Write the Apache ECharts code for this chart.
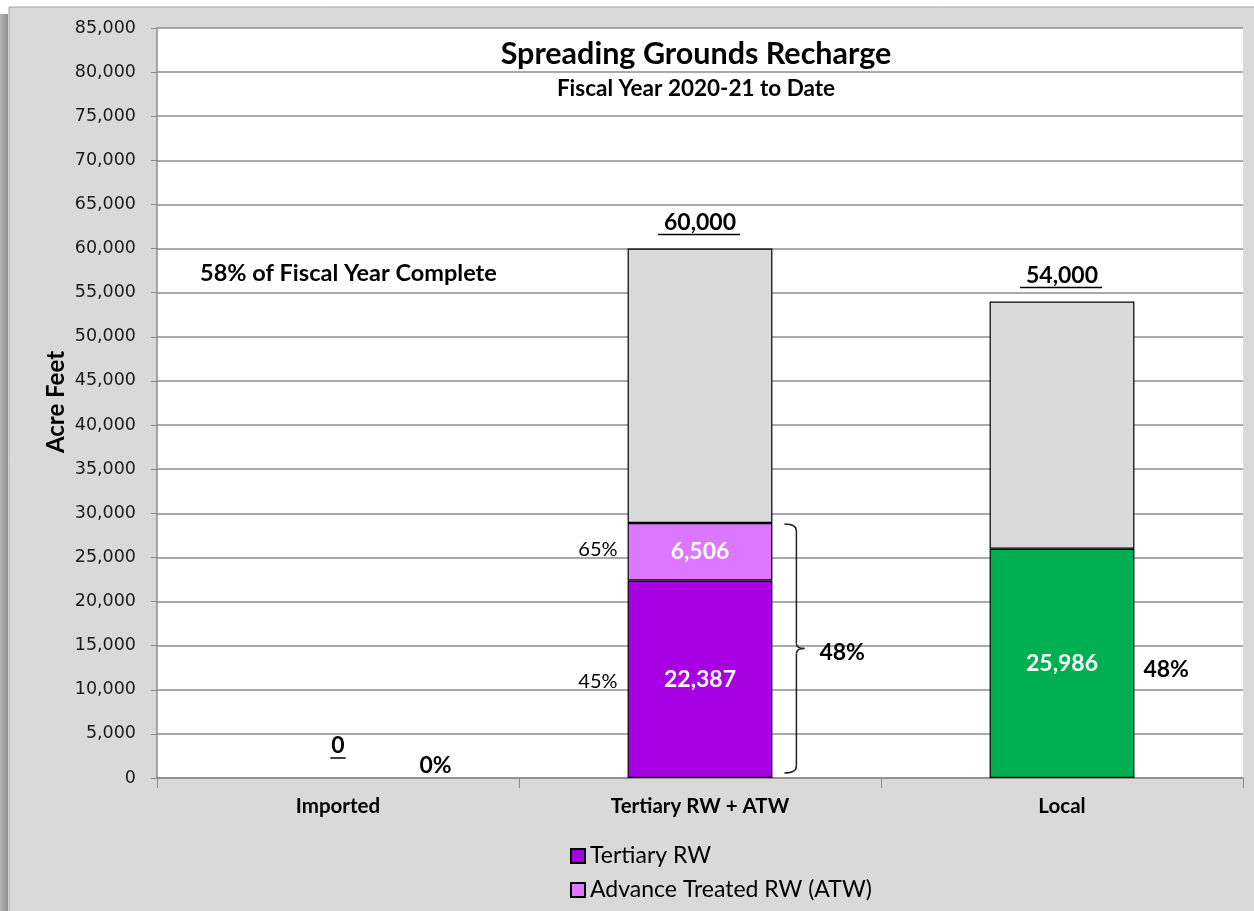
<!DOCTYPE html>
<html><head><meta charset="utf-8">
<script src="https://cdn.jsdelivr.net/npm/echarts@6/dist/echarts.min.js"></script>
<style>html,body{margin:0;padding:0;background:#fff}#c{width:1254px;height:911px}</style>
</head><body><div id="c"></div>
<script>
// ---- data ----
const categories = ['Imported', 'Tertiary RW + ATW', 'Local'];
const tertiaryRW = ['-', 22387, '-'];
const advanceTreatedRW = ['-', 6506, '-'];
const localWater = ['-', '-', 25986];
const targets = [0, 60000, 54000];
const targetLabels = ['0', '60,000', '54,000'];
const tertiaryPct = ['', '45%', ''];
const atwPct = ['', '65%', ''];
const totalPct = ['0%', '48%', '48%'];
const yMin = 0, yMax = 85000, yInterval = 5000;
const titleText = 'Spreading Grounds Recharge';
const subtitleText = 'Fiscal Year 2020-21 to Date';
const noteText = '58% of Fiscal Year Complete';
const legendNames = ['Tertiary RW', 'Advance Treated RW (ATW)'];

// ---- derived ----
const num = v => (v === '-' ? 0 : v);
const achieved = categories.map((c, i) => num(tertiaryRW[i]) + num(advanceTreatedRW[i]) + num(localWater[i]));
const remaining = categories.map((c, i) => targets[i] > 0 ? targets[i] - achieved[i] : '-');

const CAL = 'Lato, "Open Sans", sans-serif';
const TICK = '"DejaVu Sans", sans-serif';
const fmt = v => Number(v).toLocaleString('en-US');

const mctx = document.createElement('canvas').getContext('2d');
function textW(t, font) { mctx.font = font; return mctx.measureText(t).width; }

const border = { borderColor: '#000', borderWidth: 1.2 };
const inLabel = (size) => ({
  show: true, position: 'inside', color: '#fff', fontFamily: CAL, fontWeight: 'bold', fontSize: size,
  formatter: p => fmt(p.value)
});

const chart = echarts.init(document.getElementById('c'));

function annotations(params, api) {
  const i = api.value(0);
  const children = [];
  const halfBar = api.size([1, 0])[0] * 0.2;
  const cx = api.coord([i, 0])[0];
  const y0 = api.coord([i, 0])[1];
  // target label with underline
  const ty = api.coord([i, targets[i]])[1];
  const tFont = 'bold 23px ' + CAL;
  const tw = textW(targetLabels[i], tFont);
  const off = targets[i] > 0 ? 26 : 32;
  children.push({ type: 'text', x: cx, y: ty - off, style: { text: targetLabels[i], font: tFont, fill: '#000', align: 'center', verticalAlign: 'middle' } });
  children.push({ type: 'line', shape: { x1: cx - tw / 2 - (targets[i] > 0 ? 6 : 1), y1: ty - off + 12, x2: cx + tw / 2 + (targets[i] > 0 ? 4 : 1), y2: ty - off + 12 }, style: { stroke: '#000', lineWidth: 1.5 } });
  // left pct labels
  const pFont = '20px ' + CAL;
  if (tertiaryPct[i]) {
    const y = api.coord([i, num(tertiaryRW[i]) / 2])[1];
    children.push({ type: 'text', x: cx - halfBar - 10, y: y + 2, style: { text: tertiaryPct[i], font: pFont, fill: '#000', align: 'right', verticalAlign: 'middle' } });
  }
  if (atwPct[i]) {
    const y = api.coord([i, num(tertiaryRW[i]) + num(advanceTreatedRW[i]) / 2])[1];
    children.push({ type: 'text', x: cx - halfBar - 10, y: y - 2, style: { text: atwPct[i], font: pFont, fill: '#000', align: 'right', verticalAlign: 'middle' } });
  }
  // right total pct
  const bFont = 'bold 23px ' + CAL;
  if (num(tertiaryRW[i]) && num(advanceTreatedRW[i])) {
    const yT = api.coord([i, achieved[i]])[1] + 1;
    const yB = y0 - 5;
    const yM = (yT + yB) / 2;
    const xL = cx + halfBar + 12, xV = cx + halfBar + 24, xM = cx + halfBar + 32;
    const st = { stroke: '#222', lineWidth: 1.5, fill: null };
    children.push({ type: 'bezierCurve', shape: { x1: xL, y1: yT, x2: xV, y2: yT + 7, cpx1: xV, cpy1: yT }, style: st });
    children.push({ type: 'line', shape: { x1: xV, y1: yT + 7, x2: xV, y2: yM - 5 }, style: st });
    children.push({ type: 'bezierCurve', shape: { x1: xV, y1: yM - 5, x2: xM, y2: yM, cpx1: xV, cpy1: yM }, style: st });
    children.push({ type: 'bezierCurve', shape: { x1: xM, y1: yM, x2: xV, y2: yM + 5, cpx1: xV, cpy1: yM }, style: st });
    children.push({ type: 'line', shape: { x1: xV, y1: yM + 5, x2: xV, y2: yB - 7 }, style: st });
    children.push({ type: 'bezierCurve', shape: { x1: xV, y1: yB - 7, x2: xL, y2: yB, cpx1: xV, cpy1: yB }, style: st });
    children.push({ type: 'text', x: xM + 15, y: yM + 4, style: { text: totalPct[i], font: bFont, fill: '#000', align: 'left', verticalAlign: 'middle' } });
  } else {
    const yMid = api.coord([i, achieved[i] / 2])[1];
    const y = Math.min(yMid + 6, y0 - 12);
    children.push({ type: 'text', x: cx + halfBar + 9, y: y, style: { text: totalPct[i], font: bFont, fill: '#000', align: 'left', verticalAlign: 'middle' } });
  }
  return { type: 'group', children };
}

const legendBase = {
  orient: 'horizontal', left: 570, padding: 0, itemWidth: 14, itemHeight: 14, icon: 'rect',
  textStyle: { fontFamily: CAL, fontSize: 23, color: '#000', lineHeight: 24 }
};

chart.setOption({
  backgroundColor: '#ffffff',
  animation: false,
  graphic: [
    { type: 'rect', shape: { x: 9, y: 7, width: 1250, height: 910 }, style: { fill: '#d9d9d9', stroke: '#a6a6a6', lineWidth: 1 }, z: -10 },
    { type: 'rect', shape: { x: 0, y: 14, width: 8, height: 897 }, style: { fill: new echarts.graphic.LinearGradient(0, 0, 1, 0, [{ offset: 0, color: '#b5b5b5' }, { offset: 1, color: '#8e8e8e' }]) }, z: -10 },
    { type: 'text', x: 696, y: 54, style: { text: titleText, font: 'bold 30.5px ' + CAL, fill: '#000', align: 'center', verticalAlign: 'middle' }, z: 10 },
    { type: 'text', x: 696, y: 89, style: { text: subtitleText, font: 'bold 22.5px ' + CAL, fill: '#000', align: 'center', verticalAlign: 'middle' }, z: 10 },
    { type: 'text', x: 200, y: 273, style: { text: noteText, font: 'bold 23.5px ' + CAL, fill: '#000', align: 'left', verticalAlign: 'middle' }, z: 10 },
    { type: 'text', x: 56, y: 402, rotation: Math.PI / 2, style: { text: 'Acre Feet', font: 'bold 24px ' + CAL, fill: '#000', align: 'center', verticalAlign: 'middle' }, z: 10 }
  ],
  grid: { left: 157, right: 11, top: 28, bottom: 133, show: true, backgroundColor: '#ffffff', borderWidth: 0 },
  legend: [
    Object.assign({ top: 844, data: [legendNames[0]] }, legendBase),
    Object.assign({ top: 878, data: [legendNames[1]] }, legendBase)
  ],
  xAxis: {
    type: 'category', data: categories,
    axisLine: { lineStyle: { color: '#8c8c8c', width: 1.5 } },
    axisTick: { show: true, length: 10, lineStyle: { color: '#8c8c8c' } },
    axisLabel: { fontFamily: CAL, fontWeight: 'bold', fontSize: 20.5, color: '#000', margin: 18 },
    splitLine: { show: false }
  },
  yAxis: {
    type: 'value', min: yMin, max: yMax, interval: yInterval,
    axisLine: { show: true, lineStyle: { color: '#8c8c8c', width: 1.5 } },
    axisTick: { show: true, length: 6, lineStyle: { color: '#8c8c8c' } },
    axisLabel: { fontFamily: TICK, fontSize: 17.5, color: '#1a1a1a', margin: 21, formatter: v => fmt(v) },
    splitLine: { show: true, lineStyle: { color: '#8c8c8c', width: 1.5 } }
  },
  series: [
    { name: legendNames[0], type: 'bar', stack: 'a', barWidth: '40%', data: tertiaryRW, itemStyle: Object.assign({ color: '#a600e3' }, border), label: inLabel(23) },
    { name: legendNames[1], type: 'bar', stack: 'a', barWidth: '40%', data: advanceTreatedRW, itemStyle: Object.assign({ color: '#dd77ff' }, border), label: inLabel(23) },
    { name: 'Local', type: 'bar', stack: 'a', barWidth: '40%', data: localWater, itemStyle: Object.assign({ color: '#00b050' }, border), label: inLabel(23) },
    { name: 'Remaining', type: 'bar', stack: 'a', barWidth: '40%', data: remaining, itemStyle: Object.assign({ color: '#d9d9d9' }, border) },
    { name: 'annotations', type: 'custom', clip: false, z: 5, data: categories.map((c, i) => [i, targets[i]]), renderItem: annotations, silent: true }
  ]
});
</script></body></html>
